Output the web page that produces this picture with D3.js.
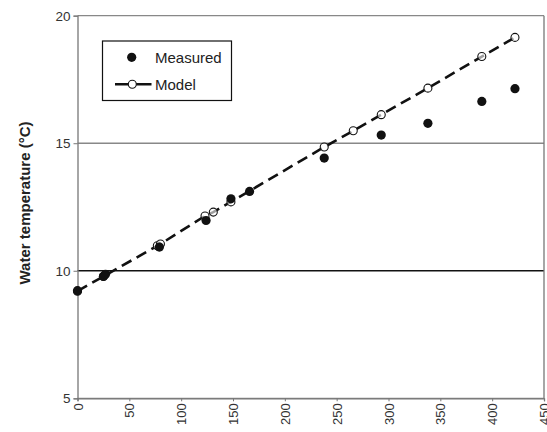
<!DOCTYPE html>
<html><head><meta charset="utf-8">
<script src="https://cdn.jsdelivr.net/npm/d3@7"></script>
<style>body{margin:0;background:#fff}svg{display:block}</style>
</head><body>
<svg id="c" width="547" height="432"></svg>
<script>
const measuredX = [0, 25, 27, 79, 124, 148, 166, 238, 293, 338, 390, 422];
const measuredY = [9.22, 9.78, 9.86, 10.93, 11.97, 12.82, 13.11, 14.42, 15.32, 15.78, 16.64, 17.14];
const modelX = [0, 25, 77, 80, 123, 131, 148, 238, 266, 293, 338, 390, 422];
const modelY = [9.2, 9.78, 10.98, 11.05, 12.15, 12.3, 12.7, 14.85, 15.49, 16.12, 17.16, 18.4, 19.15];
const xTicks = [0, 50, 100, 150, 200, 250, 300, 350, 400, 450];
const yTicks = [5, 10, 15, 20];
const yTitle = "Water temperature (\u00B0C)";
const legendLabels = ["Measured", "Model"];

const svg = d3.select("#c");
const L = 77.5, R = 544, T = 15.7, B = 398.3;
const x = d3.scaleLinear().domain([0, 450]).range([L, R]);
const y = d3.scaleLinear().domain([5, 20]).range([B, T]);
const font = "Arial, 'Liberation Sans', sans-serif";

// gridlines
svg.append("g").selectAll("line").data(yTicks).join("line")
  .attr("x1", L).attr("x2", R).attr("y1", d => y(d)).attr("y2", d => y(d))
  .attr("stroke", d => d === 10 ? "#111" : "#888").attr("stroke-width", 1.3);
// right border
svg.append("line").attr("x1", R).attr("x2", R).attr("y1", T).attr("y2", B)
  .attr("stroke", "#777").attr("stroke-width", 1.3);

// y axis
const yAxis = svg.append("g").attr("transform", `translate(${L},0)`)
  .call(d3.axisLeft(y).tickValues(yTicks).tickSize(4).tickPadding(3).tickFormat(d3.format("d")));
yAxis.select(".domain").attr("stroke", "#777").attr("stroke-width", 1.3);
yAxis.selectAll(".tick line").attr("stroke", "#777");
yAxis.selectAll("text").attr("font-family", font).attr("font-size", 13.5).attr("fill", "#333");

// x axis
const xAxis = svg.append("g").attr("transform", `translate(0,${B})`)
  .call(d3.axisBottom(x).tickValues(xTicks).tickSize(3).tickFormat(d3.format("d")));
xAxis.select(".domain").attr("stroke", "#777").attr("stroke-width", 1.3);
xAxis.selectAll(".tick line").attr("stroke", "#777");
xAxis.selectAll("text").attr("font-family", font).attr("font-size", 13).attr("fill", "#333")
  .attr("transform", "rotate(-90)").attr("text-anchor", "end")
  .attr("x", -5).attr("y", 0).attr("dy", "0.35em");

// y title
svg.append("text").attr("transform", `translate(30,203) rotate(-90)`)
  .attr("text-anchor", "middle").attr("font-family", font).attr("font-size", 15)
  .attr("font-weight", "bold").attr("fill", "#222").text(yTitle);

// model line
const pts = modelX.map((d, i) => [d, modelY[i]]);
svg.append("path").attr("d", d3.line().x(d => x(d[0])).y(d => y(d[1]))(pts))
  .attr("fill", "none").attr("stroke", "#111").attr("stroke-width", 2.6)
  .attr("stroke-dasharray", "11,6");
svg.append("g").selectAll("circle").data(pts).join("circle")
  .attr("cx", d => x(d[0])).attr("cy", d => y(d[1])).attr("r", 4)
  .attr("fill", "#fff").attr("fill-opacity", 0.6).attr("stroke", "#111").attr("stroke-width", 1.1);

// measured
const mp = measuredX.map((d, i) => [d, measuredY[i]]);
svg.append("g").selectAll("circle").data(mp).join("circle")
  .attr("cx", d => x(d[0])).attr("cy", d => y(d[1])).attr("r", 4.6).attr("fill", "#111");

// legend
const lg = svg.append("g");
lg.append("rect").attr("x", 102.5).attr("y", 41).attr("width", 129).attr("height", 59.5)
  .attr("fill", "#fff").attr("stroke", "#111").attr("stroke-width", 1.2);
lg.append("circle").attr("cx", 131.7).attr("cy", 57.3).attr("r", 4.6).attr("fill", "#111");
lg.append("line").attr("x1", 115).attr("x2", 151.5).attr("y1", 84.3).attr("y2", 84.3)
  .attr("stroke", "#111").attr("stroke-width", 2.4);
lg.append("circle").attr("cx", 132.3).attr("cy", 84.3).attr("r", 4).attr("fill", "#fff")
  .attr("stroke", "#111").attr("stroke-width", 1.1);
lg.selectAll("text").data(legendLabels).join("text")
  .attr("x", 155).attr("y", (d, i) => i === 0 ? 57.3 : 84.3).attr("dy", "0.36em")
  .attr("font-family", font).attr("font-size", 15).attr("fill", "#222").text(d => d);
</script>
</body></html>
